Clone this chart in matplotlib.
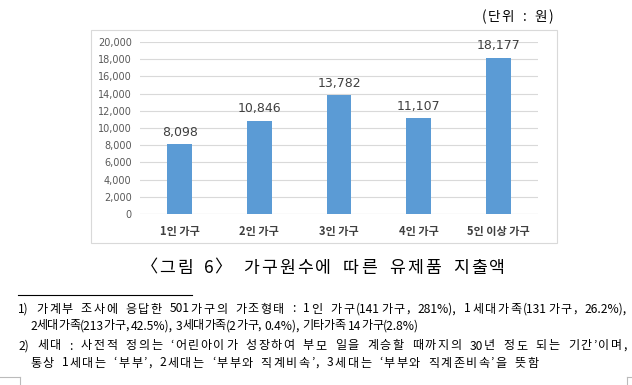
import matplotlib
matplotlib.use("Agg")
import matplotlib.pyplot as plt
from matplotlib.patches import Rectangle
from matplotlib.lines import Line2D
from matplotlib.font_manager import FontProperties

plt.rcParams['font.family'] = ['Noto Sans CJK KR', 'DejaVu Sans']

categories = ["1인 가구", "2인 가구", "3인 가구", "4인 가구", "5인 이상 가구"]
values = [8098, 10846, 13782, 11107, 18177]
yticks = [0, 2000, 4000, 6000, 8000, 10000, 12000, 14000, 16000, 18000, 20000]

unit_text = "(단위 : 원)"
caption = "〈그림 6〉 가구원수에 따른 유제품 지출액"
notes = [
    "1) 가계부 조사에 응답한 501가구의 가조형태 : 1인 가구(141가구, 281%), 1세대가족(131가구, 26.2%),",
    "2세대가족(213가구, 42.5%), 3세대가족(2가구, 0.4%), 기타가족 14가구(2.8%)",
    "2) 세대 : 사전적 정의는 ‘어린아이가 성장하여 부모 일을 계승할 때까지의 30년 정도 되는 기간’이며,",
    "통상 1세대는 ‘부부’, 2세대는 ‘부부와 직계비속’, 3세대는 ‘부부와 직계존비속’을 뜻함",
]

W, H = 632, 385
fig = plt.figure(figsize=(W / 100, H / 100), dpi=100)
fig.patch.set_facecolor("white")

def fx(px):
    return px / W

def fy(py):
    return 1 - py / H

renderer = fig.canvas.get_renderer()

def text_w(s, size):
    prop = FontProperties(family=['Noto Sans CJK KR', 'DejaVu Sans'], size=size)
    return renderer.get_text_width_height_descent(s, prop, ismath=False)[0]

def layout_cells(s, x0, ypx, em, size, x1, w_space=3.0, color="black"):
    cells = [em if ord(c) > 0x2000 else em / 2 for c in s]
    weights = [w_space if c == " " else 1.0 for c in s[:-1]]
    extra = (x1 - x0 - sum(cells)) / sum(weights)
    cx = x0
    for i, (c, w) in enumerate(zip(s, cells)):
        if c != " ":
            fig.text(fx(cx + w / 2), fy(ypx), c, ha="center", va="center",
                     fontsize=size, color=color)
        cx += w
        if i < len(s) - 1:
            cx += extra * weights[i]

def tokens_of(s):
    toks = []
    buf = ""
    for c in s:
        if c == " ":
            if buf:
                toks.append(buf)
                buf = ""
            toks.append(" ")
        elif ord(c) > 0x2000:
            if buf:
                toks.append(buf)
                buf = ""
            toks.append(c)
        else:
            buf += c
    if buf:
        toks.append(buf)
    return toks

def layout_tracked(s, x0, x1, ypx, size, w_space=3.0, space_em=0.3, color="black"):
    toks = tokens_of(s)
    em = size * 100 / 72.0
    items = []
    for t in toks:
        if t == " ":
            items.append((None, space_em * em))
        else:
            items.append((t, text_w(t, size)))
    gaps_w = []
    for a, b in zip(items[:-1], items[1:]):
        if a[0] is None or b[0] is None:
            gaps_w.append(w_space / 2)
        else:
            gaps_w.append(1.0)
    natural = sum(w for _, w in items)
    extra = (x1 - x0 - natural) / sum(gaps_w)
    cx = x0
    for i, (t, w) in enumerate(items):
        if t is not None:
            fig.text(fx(cx), fy(ypx), t, ha="left", va="center", fontsize=size, color=color)
        cx += w
        if i < len(gaps_w):
            cx += extra * gaps_w[i]

# chart frame
fig.patches.append(Rectangle((fx(91), fy(243)), fx(557) - fx(91), fy(30) - fy(243),
                             transform=fig.transFigure, fill=False,
                             edgecolor="#D9D9D9", linewidth=0.8))

ax = fig.add_axes([fx(140), fy(214), fx(538) - fx(140), fy(42) - fy(214)])
x = list(range(len(categories)))
ax.bar(x, values, width=0.31, color="#5B9BD5", zorder=3)
ax.set_xlim(-0.5, len(categories) - 0.5)
ax.set_ylim(0, 20000)
ax.set_yticks(yticks)
ax.set_yticklabels([f"{v:,}" for v in yticks], fontsize=7, color="#595959",
                   family=['DejaVu Sans'])
ax.set_xticks(x)
ax.set_xticklabels(categories, fontsize=8, color="#404040", fontweight="bold")
ax.tick_params(axis="both", length=0)
ax.tick_params(axis="y", pad=6)
ax.tick_params(axis="x", pad=8)
ax.grid(axis="y", color="#D9D9D9", linewidth=0.8, zorder=0)
for s in ax.spines.values():
    s.set_visible(False)
ax.axhline(0, color="#D9D9D9", linewidth=0.8, zorder=2)
for xi, v in zip(x, values):
    ax.annotate(f"{v:,}", (xi, v), xytext=(0, 4), textcoords="offset points",
                ha="center", va="bottom", fontsize=9, color="#404040",
                family=['DejaVu Sans'])

layout_tracked(unit_text, 482, 553, 17, 9.8)
layout_cells(caption, 141, 268, 16.6, 12.4, x1=505, w_space=1.5)

fig.lines.append(Line2D([fx(18), fx(192)], [fy(295), fy(295)], transform=fig.transFigure,
                        color="black", linewidth=0.8))
layout_tracked(notes[0], 18, 627, 309, 8.7)
layout_tracked(notes[1], 30, 419, 326, 8.7)
layout_tracked(notes[2], 18, 627, 346, 8.7)
layout_tracked(notes[3], 30, 538, 363, 8.7)

for xs, ys in [([0, 20], [377, 377]), ([20, 20], [377, 385]),
               ([627, 632], [377, 377]), ([627, 627], [377, 385])]:
    fig.lines.append(Line2D([fx(v) for v in xs], [fy(v) for v in ys],
                            transform=fig.transFigure, color="#BBBBBB", linewidth=0.8))

fig.savefig("out.png", dpi=100)
